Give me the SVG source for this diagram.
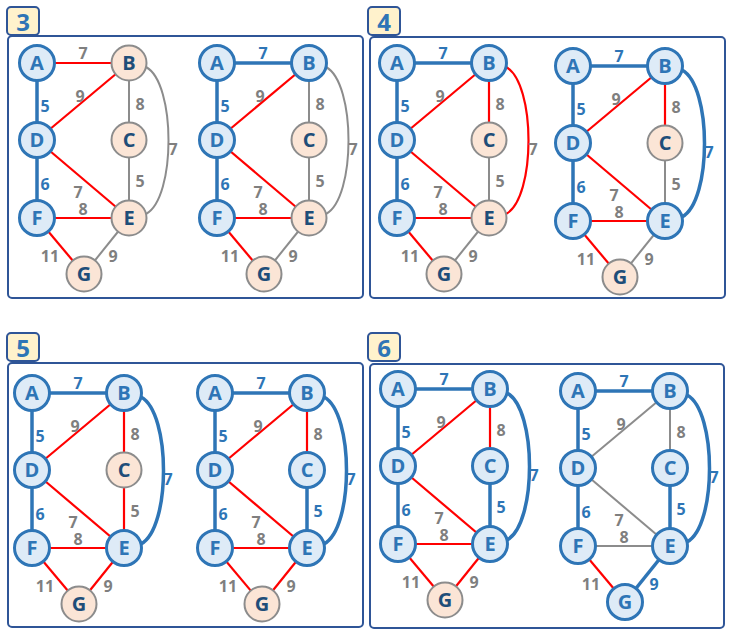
<svg xmlns="http://www.w3.org/2000/svg" width="734" height="639" viewBox="0 0 734 639">
<style>
.bg{fill:#ffffff}
.frame{fill:none;stroke:#2f5597;stroke-width:2}
.tag{fill:#fff2cc;stroke:#2f5597;stroke-width:2}
.tagt{font-family:"Open Sans","Noto Sans",sans-serif;font-weight:bold;font-size:24px;fill:#2e75b6;text-anchor:middle}
.b circle{fill:#deebf7;stroke:#2e75b6;stroke-width:3}
.o circle{fill:#fbe5d6;stroke:#8c8c8c;stroke-width:2}
.b text,.o text{font-family:"Open Sans","Noto Sans",sans-serif;font-weight:bold;font-size:20px;text-anchor:middle}
.b text{fill:#2e75b6}
.o text{fill:#1f4e79}
.eb{stroke:#2e75b6;stroke-width:3.5;fill:none}
.er{stroke:#ff0000;stroke-width:2.2;fill:none}
.eg{stroke:#8c8c8c;stroke-width:2;fill:none}
.lab{font-family:"Open Sans","Noto Sans",sans-serif;font-weight:bold;font-size:16px;text-anchor:middle}
.lg{fill:#7f7f7f}
.lb{fill:#2e75b6}
</style>
<rect class="bg" x="0" y="0" width="734" height="639"/>

<!-- Panel frames and tags -->
<g id="panel3">
<rect class="frame" x="8" y="36" width="355" height="262" rx="4"/>
<rect class="tag" x="7" y="7" width="32" height="28" rx="4"/>
<text class="tagt" x="23" y="31">3</text>
</g>
<g id="panel4">
<rect class="frame" x="370" y="37" width="355" height="261" rx="4"/>
<rect class="tag" x="368" y="7" width="32" height="28" rx="4"/>
<text class="tagt" x="384" y="31">4</text>
</g>
<g id="panel5">
<rect class="frame" x="8" y="363" width="355" height="264" rx="4"/>
<rect class="tag" x="7" y="333" width="32" height="28" rx="4"/>
<text class="tagt" x="23" y="357">5</text>
</g>
<g id="panel6">
<rect class="frame" x="370" y="364" width="354" height="264" rx="4"/>
<rect class="tag" x="368" y="333" width="32" height="28" rx="4"/>
<text class="tagt" x="384" y="357">6</text>
</g>

<!-- ===== Graph 3L ===== -->
<g id="g3L" transform="translate(37,63)">
<g id="g3L-connectors">
<line class="er" x1="0" y1="0" x2="92" y2="0"/>
<line class="eb" x1="0" y1="0" x2="0" y2="77"/>
<line class="er" x1="92" y1="0" x2="0" y2="77"/>
<line class="eg" x1="92" y1="0" x2="92" y2="77"/>
<path class="eg" d="M109,4 C139,20 139,135 109,151"/>
<line class="eb" x1="0" y1="77" x2="0" y2="155"/>
<line class="er" x1="0" y1="77" x2="92" y2="155"/>
<line class="eg" x1="92" y1="77" x2="92" y2="155"/>
<line class="er" x1="0" y1="155" x2="92" y2="155"/>
<line class="er" x1="0" y1="155" x2="47" y2="211"/>
<line class="eg" x1="92" y1="155" x2="47" y2="211"/>
<text class="lab lg" x="46" y="-4">7</text>
<text class="lab lb" x="8" y="49">5</text>
<text class="lab lg" x="43" y="39">9</text>
<text class="lab lg" x="103" y="47">8</text>
<text class="lab lg" x="136" y="92">7</text>
<text class="lab lb" x="8" y="127">6</text>
<text class="lab lg" x="41" y="135">7</text>
<text class="lab lg" x="103" y="124">5</text>
<text class="lab lg" x="46" y="152">8</text>
<text class="lab lg" x="13" y="199">11</text>
<text class="lab lg" x="76" y="199">9</text>
</g>
<g id="g3L-A" class="b"><circle cx="0" cy="0" r="17.5"/><text x="0" y="7">A</text></g>
<g id="g3L-B" class="o"><circle cx="92" cy="0" r="17.5"/><text x="92" y="7">B</text></g>
<g id="g3L-D" class="b"><circle cx="0" cy="77" r="17.5"/><text x="0" y="84">D</text></g>
<g id="g3L-C" class="o"><circle cx="92" cy="77" r="17.5"/><text x="92" y="84">C</text></g>
<g id="g3L-F" class="b"><circle cx="0" cy="155" r="17.5"/><text x="0" y="162">F</text></g>
<g id="g3L-E" class="o"><circle cx="92" cy="155" r="17.5"/><text x="92" y="162">E</text></g>
<g id="g3L-G" class="o"><circle cx="47" cy="211" r="17.5"/><text x="47" y="218">G</text></g>
</g>

<!-- ===== Graph 3R ===== -->
<g id="g3R" transform="translate(217,63)">
<g id="g3R-connectors">
<line class="eb" x1="0" y1="0" x2="92" y2="0"/>
<line class="eb" x1="0" y1="0" x2="0" y2="77"/>
<line class="er" x1="92" y1="0" x2="0" y2="77"/>
<line class="eg" x1="92" y1="0" x2="92" y2="77"/>
<path class="eg" d="M109,4 C139,20 139,135 109,151"/>
<line class="eb" x1="0" y1="77" x2="0" y2="155"/>
<line class="er" x1="0" y1="77" x2="92" y2="155"/>
<line class="eg" x1="92" y1="77" x2="92" y2="155"/>
<line class="er" x1="0" y1="155" x2="92" y2="155"/>
<line class="er" x1="0" y1="155" x2="47" y2="211"/>
<line class="eg" x1="92" y1="155" x2="47" y2="211"/>
<text class="lab lb" x="46" y="-4">7</text>
<text class="lab lb" x="8" y="49">5</text>
<text class="lab lg" x="43" y="39">9</text>
<text class="lab lg" x="103" y="47">8</text>
<text class="lab lg" x="136" y="92">7</text>
<text class="lab lb" x="8" y="127">6</text>
<text class="lab lg" x="41" y="135">7</text>
<text class="lab lg" x="103" y="124">5</text>
<text class="lab lg" x="46" y="152">8</text>
<text class="lab lg" x="13" y="199">11</text>
<text class="lab lg" x="76" y="199">9</text>
</g>
<g id="g3R-A" class="b"><circle cx="0" cy="0" r="17.5"/><text x="0" y="7">A</text></g>
<g id="g3R-B" class="b"><circle cx="92" cy="0" r="17.5"/><text x="92" y="7">B</text></g>
<g id="g3R-D" class="b"><circle cx="0" cy="77" r="17.5"/><text x="0" y="84">D</text></g>
<g id="g3R-C" class="o"><circle cx="92" cy="77" r="17.5"/><text x="92" y="84">C</text></g>
<g id="g3R-F" class="b"><circle cx="0" cy="155" r="17.5"/><text x="0" y="162">F</text></g>
<g id="g3R-E" class="o"><circle cx="92" cy="155" r="17.5"/><text x="92" y="162">E</text></g>
<g id="g3R-G" class="o"><circle cx="47" cy="211" r="17.5"/><text x="47" y="218">G</text></g>
</g>

<!-- ===== Graph 4L ===== -->
<g id="g4L" transform="translate(397,63)">
<g id="g4L-connectors">
<line class="eb" x1="0" y1="0" x2="92" y2="0"/>
<line class="eb" x1="0" y1="0" x2="0" y2="77"/>
<line class="er" x1="92" y1="0" x2="0" y2="77"/>
<line class="er" x1="92" y1="0" x2="92" y2="77"/>
<path class="er" d="M109,4 C139,20 139,135 109,151"/>
<line class="eb" x1="0" y1="77" x2="0" y2="155"/>
<line class="er" x1="0" y1="77" x2="92" y2="155"/>
<line class="eg" x1="92" y1="77" x2="92" y2="155"/>
<line class="er" x1="0" y1="155" x2="92" y2="155"/>
<line class="er" x1="0" y1="155" x2="47" y2="211"/>
<line class="eg" x1="92" y1="155" x2="47" y2="211"/>
<text class="lab lb" x="46" y="-4">7</text>
<text class="lab lb" x="8" y="49">5</text>
<text class="lab lg" x="43" y="39">9</text>
<text class="lab lg" x="103" y="47">8</text>
<text class="lab lg" x="136" y="92">7</text>
<text class="lab lb" x="8" y="127">6</text>
<text class="lab lg" x="41" y="135">7</text>
<text class="lab lg" x="103" y="124">5</text>
<text class="lab lg" x="46" y="152">8</text>
<text class="lab lg" x="13" y="199">11</text>
<text class="lab lg" x="76" y="199">9</text>
</g>
<g id="g4L-A" class="b"><circle cx="0" cy="0" r="17.5"/><text x="0" y="7">A</text></g>
<g id="g4L-B" class="b"><circle cx="92" cy="0" r="17.5"/><text x="92" y="7">B</text></g>
<g id="g4L-D" class="b"><circle cx="0" cy="77" r="17.5"/><text x="0" y="84">D</text></g>
<g id="g4L-C" class="o"><circle cx="92" cy="77" r="17.5"/><text x="92" y="84">C</text></g>
<g id="g4L-F" class="b"><circle cx="0" cy="155" r="17.5"/><text x="0" y="162">F</text></g>
<g id="g4L-E" class="o"><circle cx="92" cy="155" r="17.5"/><text x="92" y="162">E</text></g>
<g id="g4L-G" class="o"><circle cx="47" cy="211" r="17.5"/><text x="47" y="218">G</text></g>
</g>

<!-- ===== Graph 4R ===== -->
<g id="g4R" transform="translate(573,66)">
<g id="g4R-connectors">
<line class="eb" x1="0" y1="0" x2="92" y2="0"/>
<line class="eb" x1="0" y1="0" x2="0" y2="77"/>
<line class="er" x1="92" y1="0" x2="0" y2="77"/>
<line class="er" x1="92" y1="0" x2="92" y2="77"/>
<path class="eb" d="M109,4 C139,20 139,135 109,151"/>
<line class="eb" x1="0" y1="77" x2="0" y2="155"/>
<line class="er" x1="0" y1="77" x2="92" y2="155"/>
<line class="eg" x1="92" y1="77" x2="92" y2="155"/>
<line class="er" x1="0" y1="155" x2="92" y2="155"/>
<line class="er" x1="0" y1="155" x2="47" y2="211"/>
<line class="eg" x1="92" y1="155" x2="47" y2="211"/>
<text class="lab lb" x="46" y="-4">7</text>
<text class="lab lb" x="8" y="49">5</text>
<text class="lab lg" x="43" y="39">9</text>
<text class="lab lg" x="103" y="47">8</text>
<text class="lab lb" x="136" y="92">7</text>
<text class="lab lb" x="8" y="127">6</text>
<text class="lab lg" x="41" y="135">7</text>
<text class="lab lg" x="103" y="124">5</text>
<text class="lab lg" x="46" y="152">8</text>
<text class="lab lg" x="13" y="199">11</text>
<text class="lab lg" x="76" y="199">9</text>
</g>
<g id="g4R-A" class="b"><circle cx="0" cy="0" r="17.5"/><text x="0" y="7">A</text></g>
<g id="g4R-B" class="b"><circle cx="92" cy="0" r="17.5"/><text x="92" y="7">B</text></g>
<g id="g4R-D" class="b"><circle cx="0" cy="77" r="17.5"/><text x="0" y="84">D</text></g>
<g id="g4R-C" class="o"><circle cx="92" cy="77" r="17.5"/><text x="92" y="84">C</text></g>
<g id="g4R-F" class="b"><circle cx="0" cy="155" r="17.5"/><text x="0" y="162">F</text></g>
<g id="g4R-E" class="b"><circle cx="92" cy="155" r="17.5"/><text x="92" y="162">E</text></g>
<g id="g4R-G" class="o"><circle cx="47" cy="211" r="17.5"/><text x="47" y="218">G</text></g>
</g>

<!-- ===== Graph 5L ===== -->
<g id="g5L" transform="translate(32,393)">
<g id="g5L-connectors">
<line class="eb" x1="0" y1="0" x2="92" y2="0"/>
<line class="eb" x1="0" y1="0" x2="0" y2="77"/>
<line class="er" x1="92" y1="0" x2="0" y2="77"/>
<line class="er" x1="92" y1="0" x2="92" y2="77"/>
<path class="eb" d="M109,4 C139,20 139,135 109,151"/>
<line class="eb" x1="0" y1="77" x2="0" y2="155"/>
<line class="er" x1="0" y1="77" x2="92" y2="155"/>
<line class="er" x1="92" y1="77" x2="92" y2="155"/>
<line class="er" x1="0" y1="155" x2="92" y2="155"/>
<line class="er" x1="0" y1="155" x2="47" y2="211"/>
<line class="er" x1="92" y1="155" x2="47" y2="211"/>
<text class="lab lb" x="46" y="-4">7</text>
<text class="lab lb" x="8" y="49">5</text>
<text class="lab lg" x="43" y="39">9</text>
<text class="lab lg" x="103" y="47">8</text>
<text class="lab lb" x="136" y="92">7</text>
<text class="lab lb" x="8" y="127">6</text>
<text class="lab lg" x="41" y="135">7</text>
<text class="lab lg" x="103" y="124">5</text>
<text class="lab lg" x="46" y="152">8</text>
<text class="lab lg" x="13" y="199">11</text>
<text class="lab lg" x="76" y="199">9</text>
</g>
<g id="g5L-A" class="b"><circle cx="0" cy="0" r="17.5"/><text x="0" y="7">A</text></g>
<g id="g5L-B" class="b"><circle cx="92" cy="0" r="17.5"/><text x="92" y="7">B</text></g>
<g id="g5L-D" class="b"><circle cx="0" cy="77" r="17.5"/><text x="0" y="84">D</text></g>
<g id="g5L-C" class="o"><circle cx="92" cy="77" r="17.5"/><text x="92" y="84">C</text></g>
<g id="g5L-F" class="b"><circle cx="0" cy="155" r="17.5"/><text x="0" y="162">F</text></g>
<g id="g5L-E" class="b"><circle cx="92" cy="155" r="17.5"/><text x="92" y="162">E</text></g>
<g id="g5L-G" class="o"><circle cx="47" cy="211" r="17.5"/><text x="47" y="218">G</text></g>
</g>

<!-- ===== Graph 5R ===== -->
<g id="g5R" transform="translate(215,393)">
<g id="g5R-connectors">
<line class="eb" x1="0" y1="0" x2="92" y2="0"/>
<line class="eb" x1="0" y1="0" x2="0" y2="77"/>
<line class="er" x1="92" y1="0" x2="0" y2="77"/>
<line class="er" x1="92" y1="0" x2="92" y2="77"/>
<path class="eb" d="M109,4 C139,20 139,135 109,151"/>
<line class="eb" x1="0" y1="77" x2="0" y2="155"/>
<line class="er" x1="0" y1="77" x2="92" y2="155"/>
<line class="eb" x1="92" y1="77" x2="92" y2="155"/>
<line class="er" x1="0" y1="155" x2="92" y2="155"/>
<line class="er" x1="0" y1="155" x2="47" y2="211"/>
<line class="er" x1="92" y1="155" x2="47" y2="211"/>
<text class="lab lb" x="46" y="-4">7</text>
<text class="lab lb" x="8" y="49">5</text>
<text class="lab lg" x="43" y="39">9</text>
<text class="lab lg" x="103" y="47">8</text>
<text class="lab lb" x="136" y="92">7</text>
<text class="lab lb" x="8" y="127">6</text>
<text class="lab lg" x="41" y="135">7</text>
<text class="lab lb" x="103" y="124">5</text>
<text class="lab lg" x="46" y="152">8</text>
<text class="lab lg" x="13" y="199">11</text>
<text class="lab lg" x="76" y="199">9</text>
</g>
<g id="g5R-A" class="b"><circle cx="0" cy="0" r="17.5"/><text x="0" y="7">A</text></g>
<g id="g5R-B" class="b"><circle cx="92" cy="0" r="17.5"/><text x="92" y="7">B</text></g>
<g id="g5R-D" class="b"><circle cx="0" cy="77" r="17.5"/><text x="0" y="84">D</text></g>
<g id="g5R-C" class="b"><circle cx="92" cy="77" r="17.5"/><text x="92" y="84">C</text></g>
<g id="g5R-F" class="b"><circle cx="0" cy="155" r="17.5"/><text x="0" y="162">F</text></g>
<g id="g5R-E" class="b"><circle cx="92" cy="155" r="17.5"/><text x="92" y="162">E</text></g>
<g id="g5R-G" class="o"><circle cx="47" cy="211" r="17.5"/><text x="47" y="218">G</text></g>
</g>

<!-- ===== Graph 6L ===== -->
<g id="g6L" transform="translate(398,389)">
<g id="g6L-connectors">
<line class="eb" x1="0" y1="0" x2="92" y2="0"/>
<line class="eb" x1="0" y1="0" x2="0" y2="77"/>
<line class="er" x1="92" y1="0" x2="0" y2="77"/>
<line class="er" x1="92" y1="0" x2="92" y2="77"/>
<path class="eb" d="M109,4 C139,20 139,135 109,151"/>
<line class="eb" x1="0" y1="77" x2="0" y2="155"/>
<line class="er" x1="0" y1="77" x2="92" y2="155"/>
<line class="eb" x1="92" y1="77" x2="92" y2="155"/>
<line class="er" x1="0" y1="155" x2="92" y2="155"/>
<line class="er" x1="0" y1="155" x2="47" y2="211"/>
<line class="er" x1="92" y1="155" x2="47" y2="211"/>
<text class="lab lb" x="46" y="-4">7</text>
<text class="lab lb" x="8" y="49">5</text>
<text class="lab lg" x="43" y="39">9</text>
<text class="lab lg" x="103" y="47">8</text>
<text class="lab lb" x="136" y="92">7</text>
<text class="lab lb" x="8" y="127">6</text>
<text class="lab lg" x="41" y="135">7</text>
<text class="lab lb" x="103" y="124">5</text>
<text class="lab lg" x="46" y="152">8</text>
<text class="lab lg" x="13" y="199">11</text>
<text class="lab lg" x="76" y="199">9</text>
</g>
<g id="g6L-A" class="b"><circle cx="0" cy="0" r="17.5"/><text x="0" y="7">A</text></g>
<g id="g6L-B" class="b"><circle cx="92" cy="0" r="17.5"/><text x="92" y="7">B</text></g>
<g id="g6L-D" class="b"><circle cx="0" cy="77" r="17.5"/><text x="0" y="84">D</text></g>
<g id="g6L-C" class="b"><circle cx="92" cy="77" r="17.5"/><text x="92" y="84">C</text></g>
<g id="g6L-F" class="b"><circle cx="0" cy="155" r="17.5"/><text x="0" y="162">F</text></g>
<g id="g6L-E" class="b"><circle cx="92" cy="155" r="17.5"/><text x="92" y="162">E</text></g>
<g id="g6L-G" class="o"><circle cx="47" cy="211" r="17.5"/><text x="47" y="218">G</text></g>
</g>

<!-- ===== Graph 6R ===== -->
<g id="g6R" transform="translate(578,391)">
<g id="g6R-connectors">
<line class="eb" x1="0" y1="0" x2="92" y2="0"/>
<line class="eb" x1="0" y1="0" x2="0" y2="77"/>
<line class="eg" x1="92" y1="0" x2="0" y2="77"/>
<line class="eg" x1="92" y1="0" x2="92" y2="77"/>
<path class="eb" d="M109,4 C139,20 139,135 109,151"/>
<line class="eb" x1="0" y1="77" x2="0" y2="155"/>
<line class="eg" x1="0" y1="77" x2="92" y2="155"/>
<line class="eb" x1="92" y1="77" x2="92" y2="155"/>
<line class="eg" x1="0" y1="155" x2="92" y2="155"/>
<line class="er" x1="0" y1="155" x2="47" y2="211"/>
<line class="eb" x1="92" y1="155" x2="47" y2="211"/>
<text class="lab lb" x="46" y="-4">7</text>
<text class="lab lb" x="8" y="49">5</text>
<text class="lab lg" x="43" y="39">9</text>
<text class="lab lg" x="103" y="47">8</text>
<text class="lab lb" x="136" y="92">7</text>
<text class="lab lb" x="8" y="127">6</text>
<text class="lab lg" x="41" y="135">7</text>
<text class="lab lb" x="103" y="124">5</text>
<text class="lab lg" x="46" y="152">8</text>
<text class="lab lg" x="13" y="199">11</text>
<text class="lab lb" x="76" y="199">9</text>
</g>
<g id="g6R-A" class="b"><circle cx="0" cy="0" r="17.5"/><text x="0" y="7">A</text></g>
<g id="g6R-B" class="b"><circle cx="92" cy="0" r="17.5"/><text x="92" y="7">B</text></g>
<g id="g6R-D" class="b"><circle cx="0" cy="77" r="17.5"/><text x="0" y="84">D</text></g>
<g id="g6R-C" class="b"><circle cx="92" cy="77" r="17.5"/><text x="92" y="84">C</text></g>
<g id="g6R-F" class="b"><circle cx="0" cy="155" r="17.5"/><text x="0" y="162">F</text></g>
<g id="g6R-E" class="b"><circle cx="92" cy="155" r="17.5"/><text x="92" y="162">E</text></g>
<g id="g6R-G" class="b"><circle cx="47" cy="211" r="17.5"/><text x="47" y="218">G</text></g>
</g>
</svg>
